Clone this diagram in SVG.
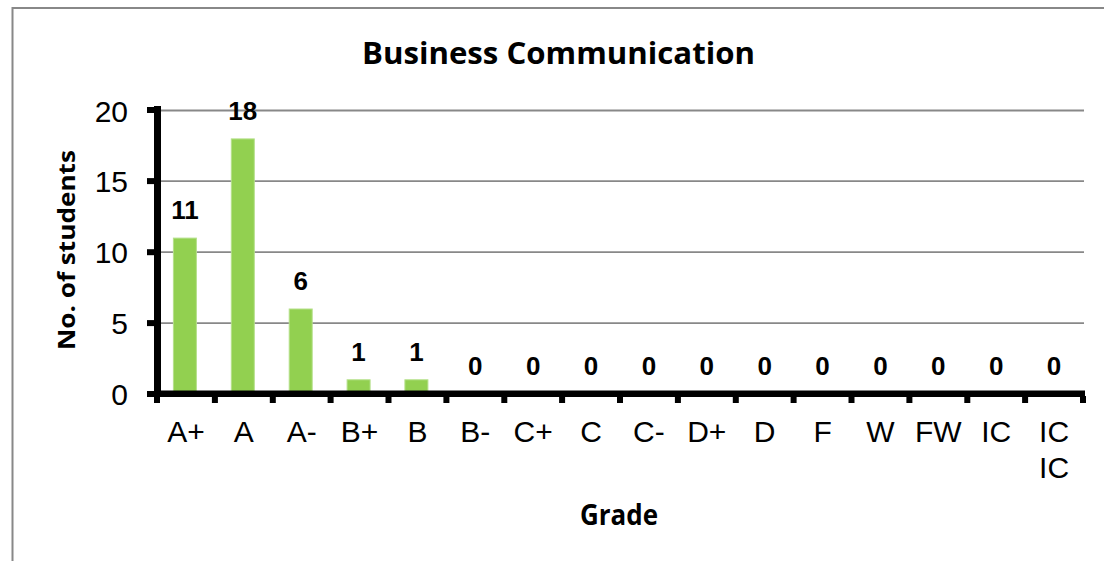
<svg xmlns="http://www.w3.org/2000/svg" width="1104" height="561" viewBox="0 0 1104 561">
<style>
.grid{stroke:#888888;stroke-width:1.8;fill:none}
.axis{fill:#000000}
.bar{fill:#92D050;stroke:#B5E08A;stroke-width:1}
.tick{font-family:"Liberation Sans",Arial,sans-serif;font-size:30px;fill:#000000}
.val{font-family:"Liberation Sans",Arial,sans-serif;font-size:26px;font-weight:bold;fill:#000000;text-anchor:middle}
.ttl{font-family:"Open Sans","Liberation Sans",sans-serif;font-weight:bold;fill:#000000}
</style>
<rect x="0" y="0" width="1104" height="561" fill="#ffffff"/>
<rect x="12.5" y="8" width="1110" height="570" fill="none" stroke="#888888" stroke-width="2"/>
<g id="title"><text class="ttl" x="362" y="64" font-size="31" textLength="393" lengthAdjust="spacingAndGlyphs">Business Communication</text></g>
<g id="gridlines">
<line class="grid" x1="160" y1="110.5" x2="1084" y2="110.5"/>
<line class="grid" x1="160" y1="181.1" x2="1084" y2="181.1"/>
<line class="grid" x1="160" y1="252.2" x2="1084" y2="252.2"/>
<line class="grid" x1="160" y1="323.1" x2="1084" y2="323.1"/>
</g>
<g id="bars">
<rect class="bar" x="173.4" y="238.1" width="23" height="155.9"/>
<rect class="bar" x="231.3" y="138.9" width="23" height="255.1"/>
<rect class="bar" x="289.2" y="309" width="23" height="85"/>
<rect class="bar" x="347.1" y="379.8" width="23" height="14.2"/>
<rect class="bar" x="404.9" y="379.8" width="23" height="14.2"/>
</g>
<g id="axes">
<rect class="axis" x="154" y="106" width="7" height="291"/>
<rect class="axis" x="154" y="390.5" width="931" height="6.5"/>
<rect class="axis" x="147" y="107" width="10" height="6"/>
<rect class="axis" x="147" y="178.1" width="10" height="6"/>
<rect class="axis" x="147" y="249.2" width="10" height="6"/>
<rect class="axis" x="147" y="320.1" width="10" height="6"/>
<rect class="axis" x="147" y="391" width="10" height="6"/>
<rect class="axis" x="154" y="396" width="6" height="7"/>
<rect class="axis" x="211.9" y="396" width="6" height="7"/>
<rect class="axis" x="269.8" y="396" width="6" height="7"/>
<rect class="axis" x="327.6" y="396" width="6" height="7"/>
<rect class="axis" x="385.5" y="396" width="6" height="7"/>
<rect class="axis" x="443.4" y="396" width="6" height="7"/>
<rect class="axis" x="501.3" y="396" width="6" height="7"/>
<rect class="axis" x="559.1" y="396" width="6" height="7"/>
<rect class="axis" x="617" y="396" width="6" height="7"/>
<rect class="axis" x="674.9" y="396" width="6" height="7"/>
<rect class="axis" x="732.8" y="396" width="6" height="7"/>
<rect class="axis" x="790.6" y="396" width="6" height="7"/>
<rect class="axis" x="848.5" y="396" width="6" height="7"/>
<rect class="axis" x="906.4" y="396" width="6" height="7"/>
<rect class="axis" x="964.3" y="396" width="6" height="7"/>
<rect class="axis" x="1022.1" y="396" width="6" height="7"/>
<rect class="axis" x="1080" y="396" width="6" height="7"/>
</g>
<g id="y-labels" class="tick" text-anchor="end">
<text x="128" y="121.5">20</text>
<text x="128" y="192">15</text>
<text x="128" y="263">10</text>
<text x="128" y="334">5</text>
<text x="128" y="404.5">0</text>
</g>
<g id="x-labels" class="tick" text-anchor="middle">
<text x="185.9" y="442">A+</text>
<text x="243.8" y="442">A</text>
<text x="301.7" y="442">A-</text>
<text x="359.6" y="442">B+</text>
<text x="417.4" y="442">B</text>
<text x="475.3" y="442">B-</text>
<text x="533.2" y="442">C+</text>
<text x="591.1" y="442">C</text>
<text x="648.9" y="442">C-</text>
<text x="706.8" y="442">D+</text>
<text x="764.7" y="442">D</text>
<text x="822.6" y="442">F</text>
<text x="880.4" y="442">W</text>
<text x="938.3" y="442">FW</text>
<text x="996.2" y="442">IC</text>
<text x="1054.1" y="442">IC</text>
<text x="1054.1" y="478">IC</text>
</g>
<g id="data-labels">
<text class="val" x="184.9" y="219">11</text>
<text class="val" x="242.8" y="120">18</text>
<text class="val" x="300.7" y="290">6</text>
<text class="val" x="358.6" y="361">1</text>
<text class="val" x="416.4" y="361">1</text>
<text class="val" x="475.3" y="375">0</text>
<text class="val" x="533.2" y="375">0</text>
<text class="val" x="591.1" y="375">0</text>
<text class="val" x="648.9" y="375">0</text>
<text class="val" x="706.8" y="375">0</text>
<text class="val" x="764.7" y="375">0</text>
<text class="val" x="822.6" y="375">0</text>
<text class="val" x="880.4" y="375">0</text>
<text class="val" x="938.3" y="375">0</text>
<text class="val" x="996.2" y="375">0</text>
<text class="val" x="1054.1" y="375">0</text>
</g>
<g id="axis-titles">
<text class="ttl" x="619" y="525" font-size="28" text-anchor="middle" textLength="78" lengthAdjust="spacingAndGlyphs">Grade</text>
<text class="ttl" transform="translate(75,250) rotate(-90)" x="0" y="0" font-size="23" text-anchor="middle" textLength="200" lengthAdjust="spacingAndGlyphs">No. of students</text>
</g>
</svg>
